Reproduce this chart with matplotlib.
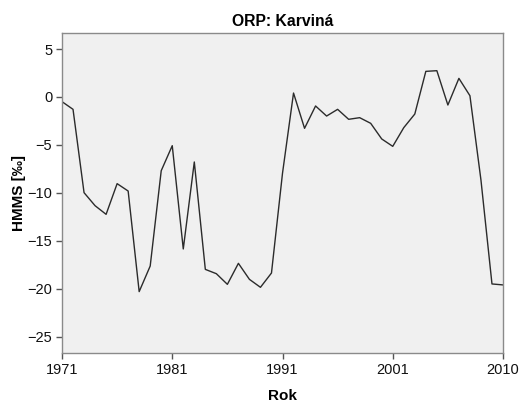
import matplotlib
matplotlib.use("Agg")
import matplotlib.pyplot as plt

# HMMS [‰] per category (41 categories on the SPSS-like category axis)
hmms = [-0.49, -1.29, -9.98, -11.34, -12.24, -9.04, -9.81, -20.3, -17.63, -7.69,
        -5.08, -15.85, -6.78, -17.98, -18.43, -19.54, -17.35, -19.02, -19.85, -18.36,
        -7.96, 0.41, -3.27, -0.94, -1.99, -1.29, -2.33, -2.16, -2.75, -4.38,
        -5.15, -3.20, -1.78, 2.67, 2.74, -0.84, 1.94, 0.13, -8.66, -19.5,
        -19.6]
tick_idx = [0, 10, 20, 30, 40]
tick_labels = ["1971", "1981", "1991", "2001", "2010"]
y_ticks = [5, 0, -5, -10, -15, -20, -25]

plt.rcParams['font.family'] = ['Liberation Sans', 'DejaVu Sans']

fig = plt.figure(figsize=(5.27, 4.03), dpi=100)
ax = fig.add_axes([62 / 527, 50 / 403, 441 / 527, 320 / 403])
ax.set_facecolor('#f0f0f0')

ax.plot(range(len(hmms)), hmms, color='#2b2b2b', linewidth=1.0)

ax.set_xlim(0, len(hmms) - 1)
ax.set_ylim(-26.7, 6.67)
ax.set_xticks(tick_idx)
ax.set_xticklabels(tick_labels)
ax.set_yticks(y_ticks)

for s in ax.spines.values():
    s.set_color('#8a8a8a')
    s.set_linewidth(1.0)
ax.tick_params(direction='out', length=4, width=1, color='#555555',
               labelsize=10.5, labelcolor='#111111', pad=3)

ax.set_title('ORP: Karviná', fontsize=11.3, fontweight='bold', pad=5)
ax.set_xlabel('Rok', fontsize=11, fontweight='bold', labelpad=9)
ax.set_ylabel('HMMS [‰]', fontsize=11, fontweight='bold', labelpad=1)

fig.savefig('out.png', dpi=100)
